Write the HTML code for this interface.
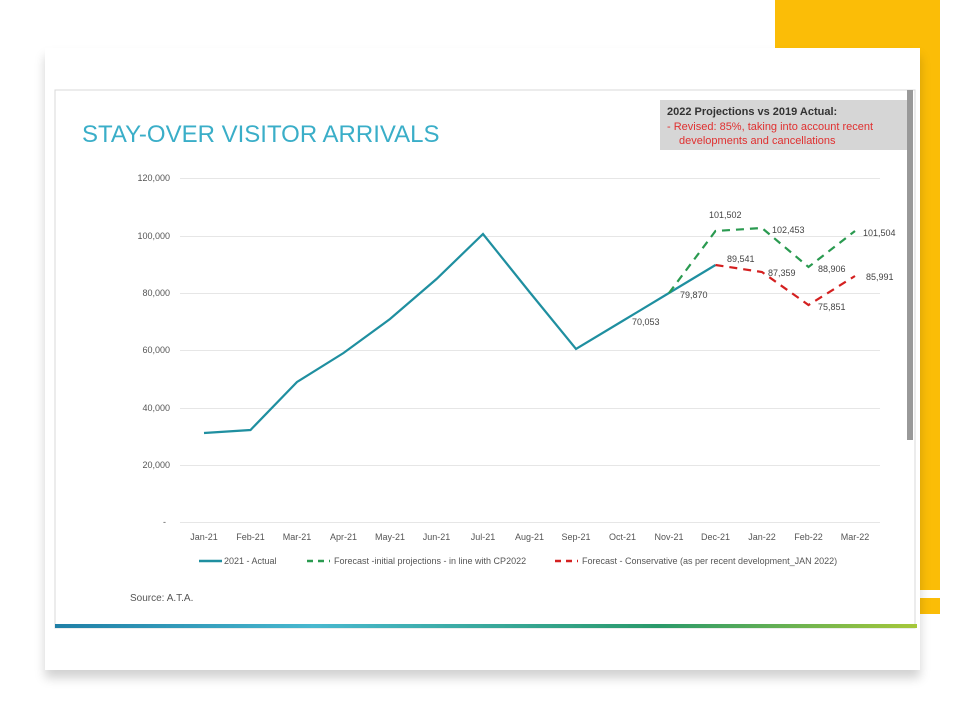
<!DOCTYPE html>
<html><head><meta charset="utf-8"><style>
body{margin:0;width:960px;height:720px;background:#fff;position:relative;overflow:hidden;font-family:"Liberation Sans",sans-serif}
.y{position:absolute;background:#fbbd07}
.card{position:absolute;left:45px;top:48px;width:875px;height:622px;background:#fff;box-shadow:0 8px 10px rgba(0,0,0,0.18)}
</style></head><body>
<div class="y" style="left:775px;top:0;width:165px;height:590px"></div>
<div class="y" style="left:920px;top:598px;width:20px;height:16px"></div>
<div class="card"></div>
<svg style="position:absolute;left:0;top:0" width="960" height="720" font-family="Liberation Sans, sans-serif">
<defs><linearGradient id="g" x1="0" x2="1"><stop offset="0" stop-color="#1f7fa6"/><stop offset="0.3" stop-color="#48b8cf"/><stop offset="0.7" stop-color="#2a9a6a"/><stop offset="1" stop-color="#a6c83a"/></linearGradient></defs>
<rect x="55" y="90" width="860" height="538" fill="#fff" stroke="#d8d8d8"/>
<rect x="907" y="90" width="6" height="350" fill="#999"/>
<rect x="55" y="624" width="862" height="4" fill="url(#g)"/>
<text x="82" y="142" font-size="24" fill="#3aaec8">STAY-OVER VISITOR ARRIVALS</text>
<rect x="660" y="100" width="247" height="50" fill="#d6d6d6"/>
<text x="667" y="115" font-size="11" font-weight="bold" fill="#333">2022 Projections vs 2019 Actual:</text>
<text x="667" y="130" font-size="11" fill="#e03030">-  Revised: 85%, taking into account recent</text>
<text x="679" y="144" font-size="11" fill="#e03030">developments and cancellations</text>
<g stroke="#e6e6e6" stroke-width="1">
<line x1="180" x2="880" y1="178.5" y2="178.5"/><line x1="180" x2="880" y1="236.5" y2="236.5"/><line x1="180" x2="880" y1="293.5" y2="293.5"/><line x1="180" x2="880" y1="350.5" y2="350.5"/><line x1="180" x2="880" y1="408.5" y2="408.5"/><line x1="180" x2="880" y1="465.5" y2="465.5"/><line x1="180" x2="880" y1="522.5" y2="522.5"/>
</g>
<g font-size="9" fill="#555" text-anchor="end">
<text x="170" y="181">120,000</text><text x="170" y="239">100,000</text><text x="170" y="296">80,000</text><text x="170" y="353">60,000</text><text x="170" y="411">40,000</text><text x="170" y="468">20,000</text><text x="166" y="525">-</text>
</g>
<g font-size="9" fill="#555" text-anchor="middle">
<text x="204" y="540">Jan-21</text><text x="250.5" y="540">Feb-21</text><text x="297" y="540">Mar-21</text><text x="343.5" y="540">Apr-21</text><text x="390" y="540">May-21</text><text x="436.5" y="540">Jun-21</text><text x="483" y="540">Jul-21</text><text x="529.5" y="540">Aug-21</text><text x="576" y="540">Sep-21</text><text x="622.5" y="540">Oct-21</text><text x="669" y="540">Nov-21</text><text x="715.5" y="540">Dec-21</text><text x="762" y="540">Jan-22</text><text x="808.5" y="540">Feb-22</text><text x="855" y="540">Mar-22</text>
</g>
<polyline fill="none" stroke="#1f8fa0" stroke-width="2.2" points="204,433 250.5,430 297,382 343.5,353 390,319 436.5,279 483,234 529.5,292 576,349 622.5,321 669,293 715.5,265"/>
<polyline fill="none" stroke="#2a9a50" stroke-width="2.2" stroke-dasharray="8,6" points="669,293 715.5,231 762,228 808.5,267 855,231"/>
<polyline fill="none" stroke="#d42020" stroke-width="2.2" stroke-dasharray="8,6" points="715.5,265 762,272 808.5,305 855,276"/>
<g font-size="9" fill="#444">
<text x="632" y="325">70,053</text><text x="680" y="298">79,870</text><text x="709" y="218">101,502</text><text x="727" y="262">89,541</text><text x="772" y="233">102,453</text><text x="768" y="276">87,359</text><text x="818" y="272">88,906</text><text x="818" y="310">75,851</text><text x="863" y="236">101,504</text><text x="866" y="280">85,991</text>
</g>
<line x1="199" x2="222" y1="561" y2="561" stroke="#1f8fa0" stroke-width="2.5"/>
<line x1="307" x2="330" y1="561" y2="561" stroke="#2a9a50" stroke-width="2.5" stroke-dasharray="6,5"/>
<line x1="555" x2="578" y1="561" y2="561" stroke="#d42020" stroke-width="2.5" stroke-dasharray="6,5"/>
<g font-size="9" fill="#555">
<text x="224" y="564">2021 - Actual</text><text x="334" y="564">Forecast -initial projections - in line with CP2022</text><text x="582" y="564">Forecast - Conservative (as per recent development_JAN 2022)</text>
<text x="130" y="601" font-size="10">Source: A.T.A.</text>
</g>
</svg>
</body></html>
